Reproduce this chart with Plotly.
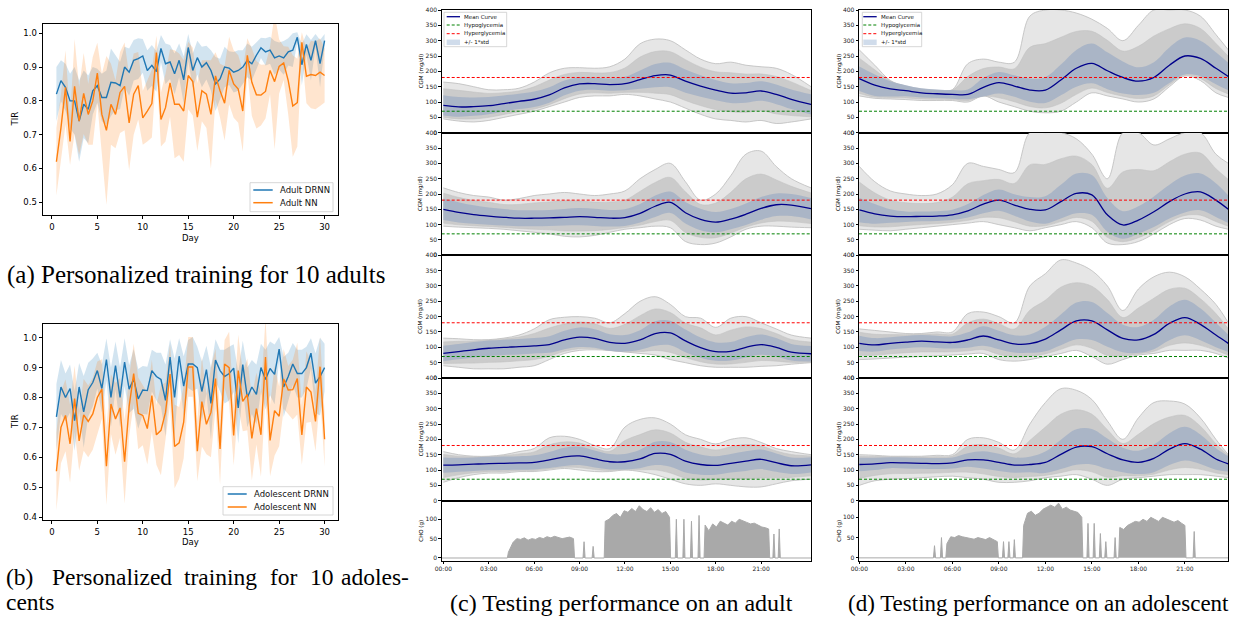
import plotly.graph_objects as go

W, H = 1234, 618
FONT = "DejaVu Sans"
SERIF = "Liberation Serif"

# ---------------- data: TIR panels ----------------
DAYS = [i / 2 for i in range(1, 61)]

ADULT_DRNN = [0.82, 0.86, 0.84, 0.80, 0.80, 0.74, 0.79, 0.775, 0.83, 0.845,
              0.81, 0.81, 0.855, 0.853, 0.845, 0.90, 0.885, 0.92, 0.925, 0.933,
              0.89, 0.905, 0.887, 0.955, 0.91, 0.915, 0.88, 0.92, 0.862, 0.958,
              0.89, 0.928, 0.90, 0.913, 0.89, 0.85, 0.865, 0.90, 0.897, 0.885,
              0.89, 0.90, 0.92, 0.91, 0.935, 0.957, 0.945, 0.95, 0.927, 0.933,
              0.927, 0.945, 0.95, 0.988, 0.907, 0.967, 0.92, 0.978, 0.91, 0.978]
ADULT_DRNN_STD = [0.08, 0.06, 0.07, 0.08, 0.10, 0.12, 0.10, 0.10, 0.07, 0.05,
                  0.07, 0.08, 0.10, 0.08, 0.07, 0.06, 0.07, 0.06, 0.06, 0.05,
                  0.06, 0.06, 0.06, 0.04, 0.06, 0.05, 0.06, 0.05, 0.07, 0.04,
                  0.05, 0.05, 0.06, 0.05, 0.06, 0.08, 0.06, 0.06, 0.05, 0.06,
                  0.06, 0.05, 0.05, 0.05, 0.04, 0.03, 0.04, 0.04, 0.05, 0.04,
                  0.05, 0.04, 0.05, 0.015, 0.06, 0.03, 0.06, 0.02, 0.07, 0.02]
ADULT_NN = [0.62, 0.72, 0.84, 0.68, 0.843, 0.74, 0.822, 0.76, 0.80, 0.882,
            0.76, 0.713, 0.79, 0.76, 0.825, 0.843, 0.735, 0.82, 0.845, 0.75,
            0.77, 0.792, 0.943, 0.745, 0.78, 0.853, 0.79, 0.79, 0.77, 0.875,
            0.857, 0.752, 0.83, 0.82, 0.76, 0.874, 0.83, 0.793, 0.89, 0.85,
            0.835, 0.77, 0.935, 0.855, 0.818, 0.817, 0.828, 0.89, 0.857, 0.902,
            0.912, 0.86, 0.785, 0.795, 0.973, 0.873, 0.878, 0.875, 0.885, 0.875]
ADULT_NN_STD = [0.10, 0.10, 0.11, 0.07, 0.14, 0.10, 0.12, 0.09, 0.13, 0.09,
                0.12, 0.22, 0.12, 0.10, 0.12, 0.13, 0.14, 0.12, 0.10, 0.08,
                0.09, 0.10, 0.05, 0.08, 0.10, 0.10, 0.16, 0.15, 0.15, 0.10,
                0.10, 0.10, 0.09, 0.10, 0.16, 0.07, 0.08, 0.11, 0.10, 0.10,
                0.10, 0.12, 0.05, 0.10, 0.10, 0.09, 0.08, 0.07, 0.20, 0.08,
                0.05, 0.10, 0.15, 0.13, 0.03, 0.08, 0.10, 0.10, 0.10, 0.08]

ADOL_DRNN = [0.735, 0.835, 0.80, 0.83, 0.722, 0.835, 0.752, 0.826, 0.85, 0.89,
             0.83, 0.927, 0.80, 0.907, 0.80, 0.918, 0.828, 0.862, 0.795, 0.825,
             0.823, 0.89, 0.87, 0.86, 0.79, 0.935, 0.80, 0.938, 0.838, 0.912,
             0.912, 0.90, 0.82, 0.893, 0.78, 0.925, 0.89, 0.87, 0.88, 0.898,
             0.765, 0.91, 0.80, 0.835, 0.81, 0.90, 0.86, 0.897, 0.877, 0.962,
             0.835, 0.87, 0.912, 0.88, 0.88, 0.90, 0.948, 0.848, 0.87, 0.90]
ADOL_DRNN_STD = [0.11, 0.09, 0.08, 0.08, 0.10, 0.08, 0.12, 0.09, 0.08, 0.06,
                 0.08, 0.07, 0.10, 0.08, 0.10, 0.08, 0.08, 0.10, 0.10, 0.08,
                 0.08, 0.07, 0.08, 0.09, 0.12, 0.06, 0.13, 0.06, 0.10, 0.08,
                 0.09, 0.07, 0.10, 0.08, 0.12, 0.07, 0.07, 0.09, 0.09, 0.08,
                 0.12, 0.08, 0.10, 0.09, 0.10, 0.08, 0.10, 0.09, 0.10, 0.04,
                 0.10, 0.08, 0.07, 0.08, 0.08, 0.07, 0.05, 0.10, 0.13, 0.08]
ADOL_NN = [0.553, 0.70, 0.74, 0.645, 0.796, 0.655, 0.742, 0.72, 0.745, 0.80,
           0.828, 0.57, 0.778, 0.728, 0.765, 0.585, 0.77, 0.88, 0.747, 0.74,
           0.696, 0.806, 0.675, 0.69, 0.75, 0.878, 0.636, 0.648, 0.717, 0.902,
           0.902, 0.62, 0.786, 0.71, 0.75, 0.863, 0.628, 0.912, 0.90, 0.673,
           0.89, 0.787, 0.81, 0.663, 0.763, 0.675, 0.935, 0.656, 0.756, 0.737,
           0.862, 0.825, 0.826, 0.863, 0.675, 0.835, 0.818, 0.72, 0.903, 0.66]
ADOL_NN_STD = [0.13, 0.12, 0.12, 0.13, 0.11, 0.10, 0.12, 0.12, 0.12, 0.12,
               0.10, 0.13, 0.10, 0.12, 0.10, 0.14, 0.10, 0.10, 0.12, 0.10,
               0.12, 0.12, 0.10, 0.15, 0.10, 0.10, 0.14, 0.12, 0.12, 0.10,
               0.10, 0.10, 0.15, 0.10, 0.15, 0.10, 0.12, 0.08, 0.12, 0.10,
               0.12, 0.10, 0.12, 0.14, 0.12, 0.14, 0.13, 0.12, 0.15, 0.10,
               0.10, 0.08, 0.10, 0.12, 0.10, 0.12, 0.10, 0.10, 0.10, 0.09]

# ---------------- data: CGM panels (hourly readings) ----------------
HOURS_C = [0, 1, 2, 3, 4, 5, 6, 7, 8, 9, 10, 11, 12, 13, 14, 15, 16, 17, 18, 19, 20, 21, 22, 23, 24.3]
HOURS_D = [0, 1, 2, 3, 4, 5, 6, 7, 8, 9, 10, 11, 12, 13, 14, 15, 16, 17, 18, 19, 20, 21, 22, 23, 23.8]

C_MEAN = [
    [89, 84, 85, 88, 95, 102, 109, 123, 146, 159, 160, 157, 160, 173, 186, 188, 168, 152, 139, 129, 130, 136, 125, 109, 92],
    [150, 140, 133, 128, 124, 121, 121, 122, 124, 126, 124, 121, 123, 137, 160, 173, 139, 117, 108, 118, 134, 153, 165, 164, 152],
    [80, 86, 92, 97, 100, 102, 105, 109, 124, 133, 129, 116, 113, 124, 145, 147, 121, 99, 86, 87, 100, 109, 100, 84, 79],
    [116, 117, 119, 121, 122, 123, 125, 133, 143, 146, 136, 127, 127, 136, 154, 151, 129, 118, 115, 122, 129, 135, 124, 114, 117],
]
C_STD = [
    [33, 32, 30, 28, 26, 25, 25, 25, 24, 22, 20, 20, 22, 30, 38, 40, 38, 35, 33, 32, 32, 32, 32, 32, 33],
    [35, 33, 30, 28, 27, 26, 26, 26, 27, 28, 28, 27, 27, 30, 35, 35, 35, 35, 33, 33, 35, 37, 37, 36, 35],
    [25, 25, 25, 25, 25, 25, 25, 27, 30, 32, 30, 27, 27, 32, 40, 40, 37, 33, 30, 30, 33, 33, 30, 27, 25],
    [25, 23, 22, 22, 22, 22, 23, 26, 30, 30, 28, 25, 25, 30, 38, 40, 37, 33, 30, 30, 32, 32, 30, 27, 25],
]
C_MAX = [
    [165, 160, 150, 140, 140, 145, 165, 195, 210, 212, 210, 215, 240, 290, 305, 300, 270, 240, 225, 230, 220, 215, 210, 190, 150],
    [220, 205, 195, 190, 180, 185, 195, 200, 205, 200, 195, 200, 210, 250, 280, 300, 240, 180, 200, 260, 330, 340, 290, 250, 220],
    [130, 128, 125, 125, 130, 140, 160, 190, 198, 200, 195, 180, 210, 250, 265, 240, 200, 195, 165, 195, 200, 180, 160, 140, 130],
    [160, 150, 145, 145, 150, 160, 170, 205, 210, 200, 180, 170, 240, 265, 270, 250, 215, 200, 185, 200, 205, 190, 170, 160, 150],
]
C_MIN = [
    [45, 38, 35, 40, 50, 60, 70, 85, 100, 115, 120, 120, 125, 120, 110, 100, 80, 60, 45, 40, 35, 40, 30, 35, 45],
    [95, 92, 90, 88, 85, 80, 75, 70, 62, 60, 65, 75, 85, 90, 95, 90, 45, 35, 40, 60, 85, 95, 95, 92, 90],
    [40, 35, 30, 30, 30, 35, 40, 60, 80, 90, 92, 90, 85, 80, 75, 60, 50, 40, 35, 35, 35, 38, 40, 45, 50],
    [60, 75, 85, 90, 90, 95, 95, 100, 105, 100, 95, 95, 100, 95, 85, 70, 55, 50, 55, 50, 45, 45, 55, 65, 70],
]

D_MEAN = [
    [176, 155, 143, 137, 130, 127, 125, 125, 148, 163, 152, 139, 139, 172, 210, 226, 202, 180, 168, 180, 220, 250, 242, 210, 183],
    [148, 135, 128, 126, 127, 128, 132, 145, 167, 180, 164, 150, 148, 175, 202, 197, 132, 99, 115, 142, 175, 200, 207, 180, 150],
    [113, 108, 113, 117, 120, 118, 116, 124, 137, 124, 111, 112, 127, 157, 186, 186, 157, 129, 124, 142, 178, 197, 175, 140, 113],
    [118, 120, 124, 123, 122, 121, 123, 133, 133, 125, 116, 118, 125, 151, 175, 176, 153, 133, 125, 138, 168, 186, 168, 136, 120],
]
D_STD = [
    [40, 35, 25, 18, 15, 14, 14, 16, 30, 35, 35, 38, 42, 50, 60, 65, 60, 52, 45, 50, 58, 60, 58, 52, 45],
    [40, 32, 22, 17, 16, 16, 17, 22, 30, 35, 35, 40, 45, 55, 65, 65, 55, 45, 45, 50, 55, 60, 60, 55, 45],
    [25, 22, 20, 20, 20, 20, 20, 25, 32, 30, 28, 30, 40, 50, 60, 62, 55, 45, 42, 48, 55, 58, 52, 40, 28],
    [22, 20, 18, 18, 18, 18, 18, 22, 28, 28, 25, 25, 35, 48, 58, 58, 50, 40, 38, 45, 52, 55, 48, 35, 25],
]
D_MAX = [
    [270, 220, 170, 150, 140, 135, 140, 225, 240, 230, 230, 380, 400, 400, 390, 370, 340, 300, 350, 400, 400, 400, 380, 320, 270],
    [290, 240, 210, 200, 195, 200, 230, 300, 290, 280, 270, 400, 400, 400, 380, 330, 250, 400, 400, 360, 380, 400, 400, 330, 300],
    [160, 155, 150, 145, 145, 150, 150, 210, 215, 200, 180, 300, 340, 385, 375, 350, 300, 220, 290, 330, 345, 330, 290, 240, 180],
    [150, 148, 145, 145, 145, 148, 150, 200, 205, 190, 165, 250, 320, 365, 360, 330, 260, 200, 270, 320, 325, 315, 270, 200, 150],
]
D_MIN = [
    [120, 112, 110, 108, 105, 105, 105, 100, 120, 100, 85, 70, 65, 70, 100, 130, 120, 110, 100, 110, 150, 185, 170, 130, 115],
    [85, 82, 80, 85, 90, 95, 100, 105, 110, 100, 90, 80, 90, 100, 110, 90, 40, 35, 45, 70, 100, 120, 115, 95, 85],
    [60, 62, 65, 68, 70, 72, 75, 78, 80, 60, 55, 60, 70, 80, 90, 70, 45, 60, 75, 80, 90, 90, 90, 80, 65],
    [50, 65, 70, 72, 75, 78, 80, 75, 70, 60, 60, 65, 75, 80, 85, 70, 50, 70, 75, 80, 85, 85, 85, 80, 75],
]

HYPO = 70
HYPER = 180

# carbohydrate intake (time in hours, grams)
CHO_C_TIME = [4.3, 4.6, 4.85, 5.1, 5.35, 5.6, 5.85, 6.1, 6.35, 6.6, 6.85, 7.1, 7.35, 7.6, 7.85, 8.1, 8.35, 8.6,
              9.3, 9.9,
              10.7, 10.95, 11.2, 11.45, 11.7, 11.95, 12.2, 12.45, 12.7, 12.95, 13.2, 13.45, 13.7, 13.95, 14.2,
              14.45, 14.7, 14.95,
              15.4, 15.9, 16.4, 16.9,
              17.3, 17.55, 17.8, 18.05, 18.3, 18.55, 18.8, 19.05, 19.3, 19.55, 19.8, 20.05, 20.3, 20.55, 20.8,
              21.05, 21.3, 21.5,
              21.85, 22.2]
CHO_C_GRAMS = [15, 40, 50, 48, 52, 46, 50, 48, 53, 50, 55, 52, 56, 53, 50, 52, 54, 50,
               42, 30,
               95, 100, 110, 115, 105, 122, 118, 128, 120, 135, 125, 120, 130, 118, 125,
               115, 120, 105,
               100, 100, 95, 110,
               85, 70, 88, 80, 95, 90, 85, 95, 90, 100, 95, 92, 88, 90, 85,
               80, 78, 75,
               62, 75]
CHO_D_TIME = [4.85, 5.3,
              5.65, 5.9, 6.15, 6.4, 6.65, 6.9, 7.15, 7.4, 7.65, 7.9, 8.15, 8.4, 8.65, 8.9,
              9.3, 9.65, 10.0,
              10.6, 10.85, 11.1, 11.35, 11.6, 11.85, 12.1, 12.35, 12.6, 12.85, 13.1, 13.35, 13.6, 13.85,
              14.1, 14.35,
              14.75, 15.15, 15.55, 15.9,
              16.5, 16.8,
              17.05, 17.3, 17.55, 17.8, 18.05, 18.3, 18.55, 18.8, 19.05, 19.3, 19.55, 19.8, 20.05, 20.3,
              20.55, 20.8, 21.0,
              21.6]
CHO_D_GRAMS = [30, 50,
               35, 52, 50, 55, 52, 50, 48, 46, 50, 48, 45, 50, 45, 40,
               40, 40, 45,
               80, 110, 115, 105, 110, 120, 125, 130, 125, 135, 120, 125, 118, 115,
               112, 100,
               85, 85, 60, 40,
               50, 75,
               70, 80, 85, 90, 88, 95, 90, 100, 95, 90, 100, 95, 92, 88,
               92, 85, 80,
               65]

HOUR_TICKS = [0, 3, 6, 9, 12, 15, 18, 21]
HOUR_LABELS = ["00:00", "03:00", "06:00", "09:00", "12:00", "15:00", "18:00", "21:00"]
CGM_TICKS = [0, 50, 100, 150, 200, 250, 300, 350, 400]
CHO_TICKS = [0, 50, 100]

# ---------------- styles ----------------
BLUE = "#1f77b4"
ORANGE = "#ff7f0e"
BLUE_FILL = "rgba(31,119,180,0.2)"
ORANGE_FILL = "rgba(255,127,14,0.2)"
MEAN_COL = "#00008b"
GRAY_LINE = "#c2c2c2"
GRAY_FILL = "#e6e6e6"
GRAY_CORE = "#cbcbcb"
STD_FILL = "rgba(166,179,197,0.9)"
STD_SWATCH = "rgba(176,196,222,0.6)"
CHO_COL = "#a9a9a9"


def fx(p):
    return p / W


def fy(p):
    return 1 - p / H


fig = go.Figure()
layout_axes = {}


def set_axes(n, xpx, ypx, xr, yr, xopts=None, yopts=None):
    common = dict(showline=True, mirror=True, linecolor="black", linewidth=0.9, showgrid=False,
                  zeroline=False, ticks="outside", tickcolor="black", tickwidth=0.8, automargin=False)
    xa = dict(domain=[fx(xpx[0]), fx(xpx[1])], range=xr, anchor="y" if n == 1 else f"y{n}", **common)
    ya = dict(domain=[fy(ypx[1]), fy(ypx[0])], range=yr, anchor="x" if n == 1 else f"x{n}", **common)
    xa.update(xopts or {})
    ya.update(yopts or {})
    layout_axes["xaxis" if n == 1 else f"xaxis{n}"] = xa
    layout_axes["yaxis" if n == 1 else f"yaxis{n}"] = ya


def ax(n):
    return ("x", "y") if n == 1 else (f"x{n}", f"y{n}")


def add_band(n, x, lo, hi, fill, shape="linear", edge=None, edgew=0):
    xa, ya = ax(n)
    ln = dict(width=edgew, shape=shape, color=edge or "rgba(0,0,0,0)")
    fig.add_trace(go.Scatter(x=x, y=lo, xaxis=xa, yaxis=ya, mode="lines", line=ln,
                             hoverinfo="skip", showlegend=False))
    fig.add_trace(go.Scatter(x=x, y=hi, xaxis=xa, yaxis=ya, mode="lines", line=ln,
                             fill="tonexty", fillcolor=fill, hoverinfo="skip", showlegend=False))


def add_line(n, x, y, color, width=1.4, shape="linear", dash="solid"):
    xa, ya = ax(n)
    fig.add_trace(go.Scatter(x=x, y=y, xaxis=xa, yaxis=ya, mode="lines",
                             line=dict(color=color, width=width, shape=shape, dash=dash),
                             hoverinfo="skip", showlegend=False))


# ---------------- TIR panels ----------------
TIR_X_RANGE = [-0.975, 31.475]
tir_tick = dict(tickfont=dict(family=FONT, size=8.5, color="black"), ticklen=3.5)
set_axes(1, (43, 338), (24, 215), TIR_X_RANGE, [0.4624, 1.0275],
         dict(tickvals=[0, 5, 10, 15, 20, 25, 30], **tir_tick),
         dict(tickvals=[0.5, 0.6, 0.7, 0.8, 0.9, 1.0], tickformat=".1f", **tir_tick))
set_axes(2, (43, 338), (324, 520), TIR_X_RANGE, [0.390, 1.0458],
         dict(tickvals=[0, 5, 10, 15, 20, 25, 30], **tir_tick),
         dict(tickvals=[0.4, 0.5, 0.6, 0.7, 0.8, 0.9, 1.0], tickformat=".1f", **tir_tick))

for n, drnn, dstd, nn, nstd in [(1, ADULT_DRNN, ADULT_DRNN_STD, ADULT_NN, ADULT_NN_STD),
                                 (2, ADOL_DRNN, ADOL_DRNN_STD, ADOL_NN, ADOL_NN_STD)]:
    add_band(n, DAYS, [m - s for m, s in zip(drnn, dstd)], [m + s for m, s in zip(drnn, dstd)], BLUE_FILL)
    add_band(n, DAYS, [m - s for m, s in zip(nn, nstd)], [m + s for m, s in zip(nn, nstd)], ORANGE_FILL)
    add_line(n, DAYS, drnn, BLUE, 1.4)
    add_line(n, DAYS, nn, ORANGE, 1.4)

# ---------------- CGM panels ----------------
ROWS = [(10, 132.7), (132.7, 255.3), (255.3, 378), (378, 500.7), (500.7, 560.7)]
COLS = {"c": dict(x=(441.7, 811), xr=[-0.11, 24.3], hours=HOURS_C, base=3,
                  mean=C_MEAN, std=C_STD, mx=C_MAX, mn=C_MIN, t=CHO_C_TIME, g=CHO_C_GRAMS, choy=[-7, 148]),
        "d": dict(x=(859, 1228.3), xr=[-0.02, 23.8], hours=HOURS_D, base=8,
                  mean=D_MEAN, std=D_STD, mx=D_MAX, mn=D_MIN, t=CHO_D_TIME, g=CHO_D_GRAMS, choy=[-7, 141])}

small_tick = dict(tickfont=dict(family=FONT, size=6, color="#222"), ticklen=2.5)

for key, c in COLS.items():
    for r in range(4):
        n = c["base"] + r
        set_axes(n, c["x"], ROWS[r], c["xr"], [0, 400],
                 dict(showticklabels=False, ticks=""),
                 dict(tickvals=CGM_TICKS, **small_tick))
        h = c["hours"]
        m, s, mx, mn = c["mean"][r], c["std"][r], c["mx"][r], c["mn"][r]
        lo = [a - b for a, b in zip(m, s)]
        hi = [a + b for a, b in zip(m, s)]
        # full spread of the individual traces (sparse lines) ...
        add_band(n, h, mn, mx, GRAY_FILL, shape="spline", edge=GRAY_LINE, edgew=0.9)
        # ... and the denser bundle of traces half-way between the std band and the extremes
        add_band(n, h, [(a + b) / 2 for a, b in zip(lo, mn)], [(a + b) / 2 for a, b in zip(hi, mx)],
                 GRAY_CORE, shape="spline", edge=GRAY_LINE, edgew=0.6)
        add_band(n, h, lo, hi, STD_FILL, shape="spline")
        add_line(n, h, m, MEAN_COL, 1.3, shape="spline")
        add_line(n, c["xr"], [HYPO, HYPO], "green", 1.0, dash="3px,2px")
        add_line(n, c["xr"], [HYPER, HYPER], "red", 1.0, dash="3px,2px")
    # CHO panel
    n = c["base"] + 4
    set_axes(n, c["x"], ROWS[4], c["xr"], c["choy"],
             dict(tickvals=HOUR_TICKS, ticktext=HOUR_LABELS, **small_tick),
             dict(tickvals=CHO_TICKS, **small_tick))
    xs, ys = [c["xr"][0]], [0]
    times, grams = c["t"], c["g"]
    for i, (t, g) in enumerate(zip(times, grams)):
        if i == 0 or t - times[i - 1] > 0.3:
            xs.append(t - 0.07)
            ys.append(0)
        xs.append(t)
        ys.append(g)
        if i == len(times) - 1 or times[i + 1] - t > 0.3:
            xs.append(t + 0.07)
            ys.append(0)
    xs.append(c["xr"][1])
    ys.append(0)
    xa, ya = ax(n)
    fig.add_trace(go.Scatter(x=xs, y=ys, xaxis=xa, yaxis=ya, mode="lines",
                             line=dict(color=CHO_COL, width=1.0), fill="tozeroy", fillcolor=CHO_COL,
                             hoverinfo="skip", showlegend=False))

# ---------------- annotations / manual legends ----------------
annotations = []
shapes = []


def text(x, y, s, size, family=FONT, anchor="center", angle=0, color="black"):
    annotations.append(dict(x=fx(x), y=fy(y), xref="paper", yref="paper", text=s, showarrow=False,
                            xanchor=anchor, yanchor="middle", textangle=angle,
                            font=dict(family=family, size=size, color=color)))


def legend(box, sx, tx, entries, size):
    shapes.append(dict(type="rect", xref="paper", yref="paper", x0=fx(box[0]), x1=fx(box[1]),
                       y0=fy(box[3]), y1=fy(box[2]), line=dict(color="#cccccc", width=0.8),
                       fillcolor="rgba(255,255,255,0.85)", layer="above"))
    for label, y, style in entries:
        if style.get("kind") == "rect":
            shapes.append(dict(type="rect", xref="paper", yref="paper", x0=fx(sx[0]), x1=fx(sx[1]),
                               y0=fy(y + style["h"] / 2), y1=fy(y - style["h"] / 2),
                               line=dict(width=0), fillcolor=style["color"], layer="above"))
        else:
            shapes.append(dict(type="line", xref="paper", yref="paper", x0=fx(sx[0]), x1=fx(sx[1]),
                               y0=fy(y), y1=fy(y), layer="above",
                               line=dict(color=style["color"], width=style.get("w", 1.5),
                                         dash=style.get("dash", "solid"))))
        text(tx, y, label, size, anchor="left", color="#111")


legend((250, 333, 182.7, 211.7), (253.3, 272.7), 278.3,
       [("Adult DRNN", 190, dict(color=BLUE)), ("Adult NN", 202.7, dict(color=ORANGE))], 8.5)
legend((223, 333, 486.7, 515), (227.7, 246.7), 252.3,
       [("Adolescent DRNN", 494, dict(color=BLUE)), ("Adolescent NN", 507, dict(color=ORANGE))], 8.5)

cgm_entries = [("Mean Curve", 16.7, dict(color=MEAN_COL, w=1.3)),
               ("Hypoglycemia", 25.0, dict(color="green", w=1.0, dash="3px,2px")),
               ("Hyperglycemia", 33.7, dict(color="red", w=1.0, dash="3px,2px")),
               ("+/- 1*std", 42.3, dict(kind="rect", color=STD_SWATCH, h=5.5))]
legend((444, 506.7, 12.3, 46.7), (446.7, 460), 462.3, cgm_entries, 5.5)
legend((862.3, 921.7, 12.3, 46.7), (863.3, 876.7), 879.3, cgm_entries, 5.5)

# axis titles
text(15, 119.5, "TIR", 8.5, angle=-90)
text(15, 422, "TIR", 8.5, angle=-90)
text(190.7, 238.3, "Day", 8.5)
text(190.7, 541.7, "Day", 8.5)
for x in (421, 839):
    for r in range(4):
        text(x, (ROWS[r][0] + ROWS[r][1]) / 2, "CGM (mg/dl)", 5.5, angle=-90)
    text(x + 1, (ROWS[4][0] + ROWS[4][1]) / 2, "CHO (g)", 5.5, angle=-90)

# captions
text(5, 275, "(a) Personalized training for 10 adults", 25, family=SERIF, anchor="left")
for word, x in [("(b)", 4), ("Personalized", 50), ("training", 182), ("for", 268), ("10", 308),
                ("adoles-", 339)]:
    text(x, 577, word, 23.5, family=SERIF, anchor="left")
text(4, 602, "cents", 23.5, family=SERIF, anchor="left")
text(621, 603, "(c) Testing performance on an adult", 24, family=SERIF)
text(1038, 603, "(d) Testing performance on an adolescent", 23, family=SERIF)

fig.update_layout(width=W, height=H, margin=dict(l=0, r=0, t=0, b=0), autosize=False,
                  paper_bgcolor="white", plot_bgcolor="white", showlegend=False,
                  annotations=annotations, shapes=shapes, **layout_axes)

fig.write_html("out.html", config={"displayModeBar": False},
               post_script="document.body.style.margin='0px';")
